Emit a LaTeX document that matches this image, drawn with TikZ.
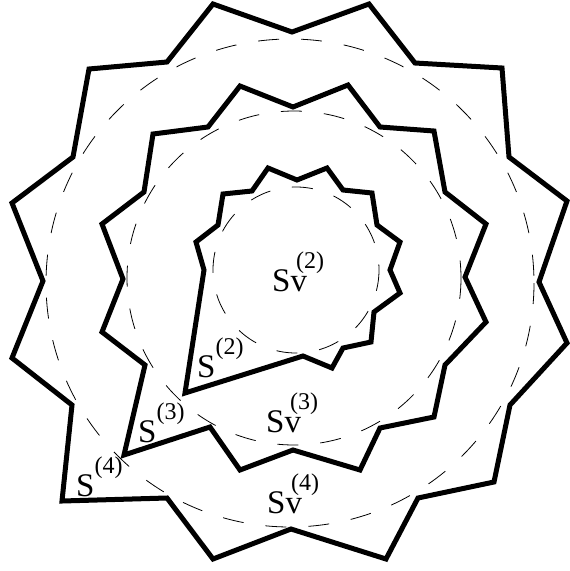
\documentclass[tikz,border=0pt]{standalone}
\usepackage{fontspec}
\setmainfont{Liberation Serif}
\newcommand\suplab[1]{\raisebox{23pt}{\fontsize{24}{24}\selectfont(#1)}}
\begin{document}
\begin{tikzpicture}[x=1pt,y=-1pt,
  poly/.style={line width=5pt,line join=miter,miter limit=20},
  ring/.style={line width=0.8pt,dash pattern=on 21pt off 22pt},
  lab/.style={anchor=base west,inner sep=0pt,font=\fontsize{33}{33}\selectfont}]
\useasboundingbox (0,0) rectangle (570,571);
% outer polygon S(4)
\draw[poly] (213,4)--(292,32)--(369,4)--(415,63)--(502,68)--(509,157)--(567,201)--(539,282)--(567,343)--(510,405)--(494,482)--(418,498)--(386,559)--(291,529)--(213,559)--(167,498)--(62,501)--(72,405)--(12,358)--(43,281)--(12,203)--(73,157)--(89,69)--(167,62)--cycle;
% middle polygon S(3)
\draw[poly] (240,86)--(293,107)--(348,85)--(380,127)--(434,131)--(445,192)--(486,224)--(465,277)--(486,322)--(445,365)--(434,417)--(380,428)--(360,470)--(293,450)--(240,470)--(210,427)--(124,455)--(145,365)--(102,332)--(123,279)--(102,224)--(144,192)--(153,134)--(208,127)--cycle;
% inner polygon S(2)
\draw[poly] (268,168)--(297,180)--(327,168)--(343,190)--(372,193)--(377,225)--(400,242)--(390,270)--(400,293)--(374,312)--(371,342)--(343,348)--(332,368)--(303,356)--(185,393)--(204,270)--(196,242)--(218,225)--(223,194)--(252,191)--cycle;
% dashed circles
\draw[ring] (296,270) circle (83);
\draw[ring] (294,278) circle (167);
\draw[ring] (290,283) circle (244);
% labels
\node[lab] (sv2) at (272,291) {Sv\kern-11pt\suplab{2}};
\node[lab] (sv3) at (266,432) {Sv\kern-11pt\suplab{3}};
\node[lab] (sv4) at (267,513) {Sv\kern-11pt\suplab{4}};
\node[lab] (s2) at (197,377) {S\suplab{2}};
\node[lab] (s3) at (138,442) {S\suplab{3}};
\node[lab] (s4) at (76,496) {S\suplab{4}};
\end{tikzpicture}
\end{document}
